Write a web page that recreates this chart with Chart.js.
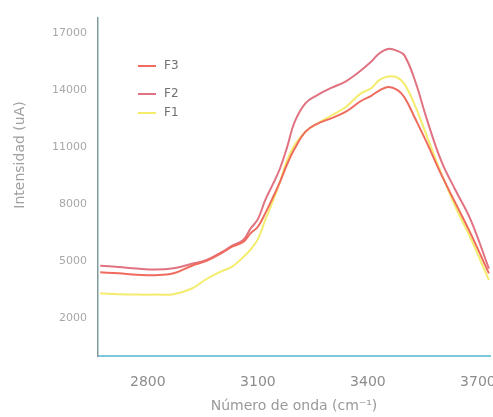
<!DOCTYPE html>
<html>
<head>
<meta charset="utf-8">
<script src="https://cdn.jsdelivr.net/npm/chart.js@4.4.1/dist/chart.umd.min.js"></script>
<style>
  html, body { margin: 0; padding: 0; background: #fff; }
  #wrap { width: 493px; height: 417px; }
</style>
</head>
<body>
<div id="wrap"><canvas id="espectro"></canvas></div>
<script>
// numero de onda (cm-1)
const wavenumbers = [2670, 2720, 2770, 2820, 2870, 2920, 2960, 3000, 3030, 3060, 3080, 3100, 3120, 3140, 3160,
  3180, 3200, 3230, 3260, 3300, 3340, 3380, 3410, 3430, 3455, 3480, 3500, 3530, 3560, 3600, 3640, 3680, 3730];

// intensidad (uA) por fraccion
const f3 = [4400, 4350, 4280, 4250, 4350, 4750, 5000, 5400, 5750, 6000, 6450, 6800, 7500, 8300, 9150,
  10100, 10900, 11800, 12200, 12500, 12850, 13400, 13700, 13950, 14150, 14000, 13600, 12450, 11250, 9550, 8000, 6450, 4350];
const f2 = [4750, 4680, 4600, 4550, 4620, 4850, 5050, 5450, 5800, 6100, 6700, 7200, 8200, 9000, 9850,
  11000, 12300, 13300, 13700, 14100, 14450, 15000, 15500, 15900, 16150, 16050, 15800, 14400, 12500, 10260, 8680, 7170, 4600];
const f1 = [3300, 3250, 3230, 3230, 3250, 3550, 4050, 4450, 4700, 5200, 5600, 6150, 7150, 8100, 9150,
  10300, 11100, 11800, 12200, 12650, 13100, 13800, 14100, 14500, 14700, 14650, 14300, 13100, 11600, 9600, 7800, 6200, 4000];

const xTicks = [2800, 3100, 3400, 3700];
const yTicks = [2000, 5000, 8000, 11000, 14000, 17000];

const toPoints = (ys) => wavenumbers.map((x, i) => ({ x: x, y: ys[i] }));

// leyenda dentro del area + titulo del eje y
const extras = {
  id: 'extras',
  afterDraw(chart) {
    const ctx = chart.ctx;
    const rows = [66, 94, 113]; // F3, F2, F1
    ctx.save();
    ctx.font = '12px "DejaVu Sans", sans-serif';
    ctx.textBaseline = 'middle';
    chart.data.datasets.forEach((ds, k) => {
      const y = rows[k];
      ctx.strokeStyle = ds.borderColor;
      ctx.lineWidth = 2;
      ctx.beginPath();
      ctx.moveTo(138, y);
      ctx.lineTo(156, y);
      ctx.stroke();
      ctx.fillStyle = '#707070';
      ctx.fillText(ds.label, 164, y);
    });

    ctx.translate(20, 155);
    ctx.rotate(-Math.PI / 2);
    ctx.textAlign = 'center';
    ctx.font = '14px "DejaVu Sans", sans-serif';
    ctx.fillStyle = '#a0a0a0';
    ctx.fillText('Intensidad (uA)', 0, 0);
    ctx.restore();
  }
};

new Chart(document.getElementById('espectro'), {
  type: 'line',
  data: {
    datasets: [
      { label: 'F3', data: toPoints(f3), borderColor: '#ef6b5e' },
      { label: 'F2', data: toPoints(f2), borderColor: '#e07282' },
      { label: 'F1', data: toPoints(f1), borderColor: '#f3ec6c' }
    ]
  },
  options: {
    responsive: true,
    maintainAspectRatio: false,
    animation: false,
    layout: { padding: { top: 0, right: 3, bottom: 0, left: 0 } },
    elements: {
      line: { borderWidth: 2, tension: 0.4 },
      point: { radius: 0 }
    },
    plugins: {
      legend: { display: false },
      tooltip: { enabled: false }
    },
    scales: {
      x: {
        type: 'linear',
        min: 2664,
        max: 3733,
        afterBuildTicks: (axis) => { axis.ticks = xTicks.map(v => ({ value: v })); },
        afterFit: (axis) => { axis.height = 61; axis.paddingRight = 0; axis.paddingLeft = 0; },
        grid: { display: false, drawTicks: false },
        border: { color: '#7cc6de', width: 2 },
        ticks: { color: '#8c8c8c', font: { size: 14, family: '"DejaVu Sans", sans-serif' }, padding: 18, maxRotation: 0, autoSkip: false, callback: (v) => String(v) },
        title: { display: true, text: 'Número de onda (cm⁻¹)', color: '#999', font: { size: 14, family: '"DejaVu Sans", sans-serif' }, padding: { top: 0, bottom: 2 } }
      },
      y: {
        min: 0,
        max: 17800,
        afterBuildTicks: (axis) => { axis.ticks = yTicks.map(v => ({ value: v })); },
        afterFit: (axis) => { axis.width = 98; },
        grid: { display: false, drawTicks: false },
        border: { color: '#7f9c9c', width: 1.5 },
        ticks: { color: '#a8a8a8', font: { size: 11, family: '"DejaVu Sans", sans-serif' }, padding: 11, callback: (v) => String(v) },
        title: { display: false }
      }
    }
  },
  plugins: [extras]
});
</script>
</body>
</html>
